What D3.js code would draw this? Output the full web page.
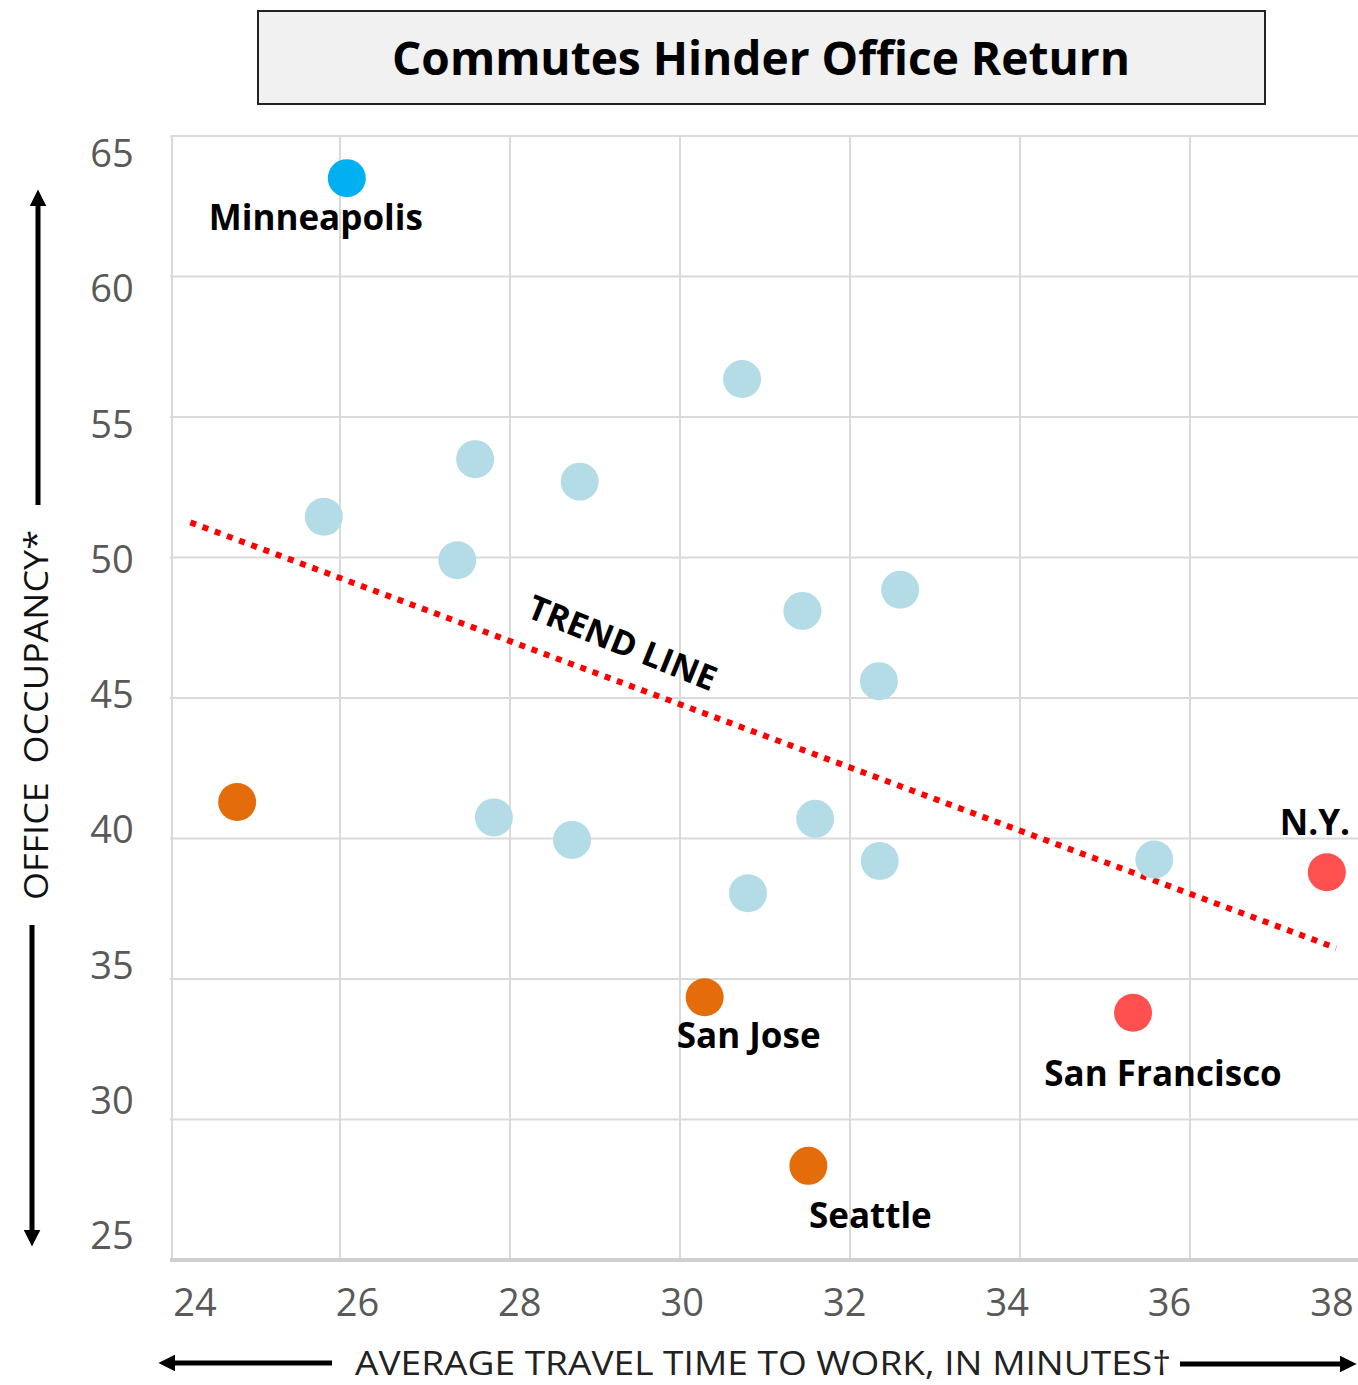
<!DOCTYPE html>
<html>
<head>
<meta charset="utf-8">
<script src="https://cdn.jsdelivr.net/npm/d3@7"></script>
<style>
  body { margin: 0; background: #fff; }
  svg { display: block; }
</style>
</head>
<body>
<div class="chart"></div>
<script>
// Set chart area
var svgWidth = 1358;
var svgHeight = 1385;

// data
var travelTime = [26.08, 30.73, 27.59, 28.82, 25.81, 27.38, 31.44, 32.59, 32.34, 27.81, 28.73, 31.59, 30.8, 32.35, 35.58, 24.79, 30.29, 31.51, 35.33, 37.61];
var occupancy  = [63.5, 56.35, 53.5, 52.7, 51.45, 49.9, 48.1, 48.85, 45.6, 40.75, 39.95, 40.7, 38.05, 39.2, 39.25, 41.3, 34.35, 28.35, 33.8, 38.8];
var group      = ["top", "mid", "mid", "mid", "mid", "mid", "mid", "mid", "mid", "mid", "mid", "mid", "mid", "mid", "mid", "low", "low", "low", "worst", "worst"];
var cityName   = ["Minneapolis", "", "", "", "", "", "", "", "", "", "", "", "", "", "", "", "San Jose", "Seattle", "San Francisco", "N.Y."];

var xTicks = [24, 26, 28, 30, 32, 34, 36, 38];
var yTicks = [25, 30, 35, 40, 45, 50, 55, 60, 65];
var trendX = [24.24, 37.72];
var trendY = [51.25, 36.1];

var groupColor = { top: "#00b0f0", mid: "#b4dce6", low: "#e46c0a", worst: "#ff5050" };

// where each label sits relative to its dot [dx, dy]
var labelOffset = {
  "Minneapolis": [-31, 52],
  "San Jose": [44, 51],
  "Seattle": [62, 62],
  "San Francisco": [30, 73],
  "N.Y.": [-12, -37]
};

var svg = d3.select(".chart")
  .append("svg")
  .attr("width", svgWidth)
  .attr("height", svgHeight)
  .style("font-family", "'Open Sans', 'DejaVu Sans', sans-serif");

// scales
var xScale = d3.scaleLinear().domain([24, 38]).range([170, 1360]);
var yScale = d3.scaleLinear().domain([25, 65]).range([1260, 136]);
// tick labels in the picture are spread a little differently from the grid
var xLabelScale = d3.scaleLinear().domain([24, 38]).range([195, 1332]);
var yLabelScale = d3.scaleLinear().domain([25, 65]).range([1235, 153]);

// title box
svg.append("rect")
  .attr("x", 258).attr("y", 11)
  .attr("width", 1007).attr("height", 93)
  .attr("fill", "#f1f1f1")
  .attr("stroke", "#222")
  .attr("stroke-width", 2);

svg.append("text")
  .attr("x", 761).attr("y", 75)
  .attr("text-anchor", "middle")
  .attr("font-size", 46)
  .attr("font-weight", "bold")
  .attr("textLength", 738)
  .attr("lengthAdjust", "spacingAndGlyphs")
  .attr("fill", "#000")
  .text("Commutes Hinder Office Return");

// grid
var grid = svg.append("g");
grid.selectAll(".vline")
  .data(xTicks.slice(1))
  .enter()
  .append("line")
  .attr("x1", d => xScale(d)).attr("x2", d => xScale(d))
  .attr("y1", yScale(65)).attr("y2", yScale(25))
  .attr("stroke", "#dadada")
  .attr("stroke-width", 2);

grid.selectAll(".hline")
  .data(yTicks.slice(1))
  .enter()
  .append("line")
  .attr("x1", xScale(24)).attr("x2", svgWidth)
  .attr("y1", d => yScale(d)).attr("y2", d => yScale(d))
  .attr("stroke", "#dadada")
  .attr("stroke-width", 2);

// left edge and bottom axis line
grid.append("line")
  .attr("x1", xScale(24) + 2).attr("x2", xScale(24) + 2)
  .attr("y1", yScale(65)).attr("y2", yScale(25))
  .attr("stroke", "#dadada").attr("stroke-width", 2);
grid.append("line")
  .attr("x1", xScale(24)).attr("x2", svgWidth)
  .attr("y1", yScale(25)).attr("y2", yScale(25))
  .attr("stroke", "#cfcfcf").attr("stroke-width", 4);

// tick labels
svg.append("g").selectAll("text")
  .data(xTicks)
  .enter()
  .append("text")
  .attr("x", d => xLabelScale(d))
  .attr("y", 1316)
  .attr("text-anchor", "middle")
  .attr("font-size", 38)
  .attr("fill", "#595959")
  .text(d => d);

svg.append("g").selectAll("text")
  .data(yTicks)
  .enter()
  .append("text")
  .attr("x", 112)
  .attr("y", d => yLabelScale(d) + 14)
  .attr("text-anchor", "middle")
  .attr("font-size", 38)
  .attr("fill", "#595959")
  .text(d => d);

// trend line
svg.append("line")
  .attr("x1", xScale(trendX[0])).attr("y1", yScale(trendY[0]))
  .attr("x2", xScale(trendX[1])).attr("y2", yScale(trendY[1]))
  .attr("stroke", "#ff0000")
  .attr("stroke-width", 6)
  .attr("stroke-dasharray", "6,7");

svg.append("text")
  .attr("transform", "translate(618,654) rotate(22)")
  .attr("text-anchor", "middle")
  .attr("font-size", 34)
  .attr("font-weight", "bold")
  .attr("fill", "#000")
  .text("TREND LINE");

// dots
var cityData = travelTime.map((t, i) => ({ x: t, y: occupancy[i], g: group[i], name: cityName[i] }));

svg.append("g").selectAll("circle")
  .data(cityData)
  .enter()
  .append("circle")
  .attr("cx", d => xScale(d.x))
  .attr("cy", d => yScale(d.y))
  .attr("r", 19)
  .attr("fill", d => groupColor[d.g]);

svg.append("g").selectAll("text")
  .data(cityData.filter(d => d.name !== ""))
  .enter()
  .append("text")
  .attr("x", d => xScale(d.x) + labelOffset[d.name][0])
  .attr("y", d => yScale(d.y) + labelOffset[d.name][1])
  .attr("text-anchor", "middle")
  .attr("font-size", 35)
  .attr("font-weight", "bold")
  .attr("fill", "#000")
  .text(d => d.name);

// arrows
var defs = svg.append("defs");
defs.append("marker")
  .attr("id", "head")
  .attr("viewBox", "0 0 10 10")
  .attr("refX", 2).attr("refY", 5)
  .attr("markerWidth", 3.4).attr("markerHeight", 3.4)
  .attr("markerUnits", "strokeWidth")
  .attr("orient", "auto")
  .append("path")
  .attr("d", "M0,0 L10,5 L0,10 Z")
  .attr("fill", "#000");

var arrows = [
  [38, 505, 38, 203],
  [32, 925, 32, 1233],
  [332, 1363, 172, 1363],
  [1180, 1364, 1343, 1364]
];
svg.append("g").selectAll("line")
  .data(arrows)
  .enter()
  .append("line")
  .attr("x1", d => d[0]).attr("y1", d => d[1])
  .attr("x2", d => d[2]).attr("y2", d => d[3])
  .attr("stroke", "#000")
  .attr("stroke-width", 5)
  .attr("marker-end", "url(#head)");

// axis titles
svg.append("text")
  .attr("x", 763).attr("y", 1375)
  .attr("text-anchor", "middle")
  .attr("font-size", 32)
  .attr("fill", "#222")
  .attr("textLength", 816)
  .attr("lengthAdjust", "spacingAndGlyphs")
  .text("AVERAGE TRAVEL TIME TO WORK, IN MINUTES\u2020");

svg.append("text")
  .attr("transform", "translate(48,715) rotate(-90)")
  .attr("text-anchor", "middle")
  .attr("font-size", 33)
  .attr("fill", "#111")
  .attr("textLength", 370)
  .attr("lengthAdjust", "spacingAndGlyphs")
  .attr("xml:space", "preserve")
  .text("OFFICE  OCCUPANCY*");
</script>
</body>
</html>
